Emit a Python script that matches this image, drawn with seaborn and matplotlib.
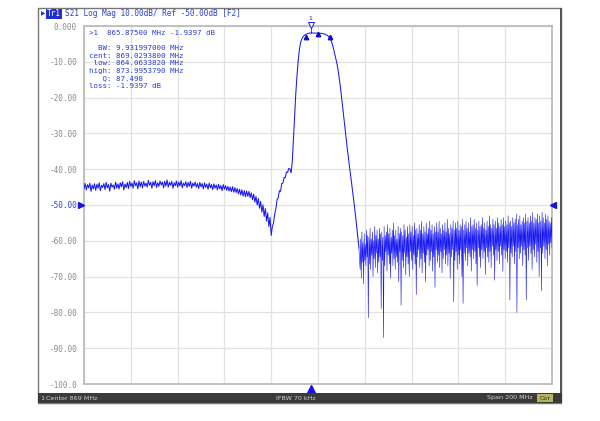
import numpy as np
import matplotlib
matplotlib.use("Agg")
import matplotlib.pyplot as plt
import matplotlib.transforms as mtransforms
from matplotlib.patches import Rectangle
import seaborn as sns

# S21 sweep, center 869 MHz, span 200 MHz
# 769.0 .. 886.5 MHz read every 0.5 MHz, stopband 887 .. 969 MHz every 0.25 MHz
main_start = 769.0
main_step = 0.5
stop_start = 887.0
stop_step = 0.25

lower_band = [
    -45.4, -44.0, -45.8, -44.3, -45.2, -43.9, -46.2, -44.4, -45.5, -44.1,
    -45.9, -44.2, -45.3, -43.8, -46.0, -44.5, -45.1, -44.0, -45.7, -43.7,
    -45.2, -44.3, -46.1, -43.9, -45.0, -44.4, -45.6, -43.6, -45.3, -44.1,
    -45.5, -43.8, -44.9, -43.5, -45.8, -44.2, -45.1, -43.7, -45.4, -43.4,
    -44.8, -43.9, -45.3, -43.2, -44.6, -43.8, -45.5, -43.3, -44.9, -43.6,
    -45.2, -43.4, -44.7, -43.9, -45.0, -43.1, -44.5, -43.7, -45.3, -43.5,
    -44.6, -43.2, -45.1, -43.8, -44.8, -43.3, -44.4, -43.6, -45.2, -43.4,
    -44.7, -43.0, -45.0, -43.7, -44.5, -43.4, -45.3, -43.8, -44.6, -43.3,
    -45.0, -43.6, -44.7, -43.2, -45.2, -43.9, -44.6, -43.5, -45.1, -43.7,
    -44.8, -43.4, -45.3, -43.9, -44.7, -43.6, -45.0, -44.0, -45.4, -43.7,
    -44.9, -44.0, -45.5, -43.8, -45.1, -44.2, -45.6, -43.9, -45.2, -44.3,
    -45.7, -44.1, -45.3, -44.4, -45.8, -44.2, -45.5, -44.6, -46.0, -44.3,
    -45.6,
]
lower_skirt = [
    -44.6, -45.9, -44.8, -46.1, -45.0, -46.3, -44.9, -46.4, -45.2, -46.5,
    -45.4, -46.9, -45.6, -47.2, -45.8, -47.5, -46.0, -47.7, -46.1, -47.6,
    -46.2, -47.9, -46.6, -48.5, -47.0, -49.2, -47.6, -50.0, -48.2, -50.9,
    -49.0, -52.0, -50.0, -53.2, -51.0, -54.5, -52.2, -56.0, -53.5, -58.5,
    -56.0,
]
shoulder = [
    -55.0, -52.5, -51.0, -48.5, -48.0, -46.0, -46.2, -44.0, -43.9, -42.3,
    -42.4, -40.8, -40.9, -39.8, -39.9, -41.0,
]
passband = [
    -38.0, -31.5, -25.0, -19.0, -14.0, -10.0, -6.8, -4.8, -3.7, -3.1,
    -2.7, -2.45, -2.3, -2.15, -2.05, -1.97, -1.94, -1.95, -1.97, -1.99,
    -2.0, -2.0, -2.0, -2.0, -2.02, -2.05, -2.1, -2.2, -2.3, -2.45,
    -2.65, -2.9, -3.3, -3.9, -4.8, -6.0, -7.4, -8.8, -10.2, -12.0,
    -14.2, -16.6, -19.4, -22.4, -25.4, -28.4, -31.4, -34.2, -36.8, -39.3,
    -41.8, -44.4, -47.1, -49.9, -52.8, -55.8, -58.9, -62.0,
]
stopband = [
    -68.0, -59.5, -70.5, -57.5, -66.0, -60.5, -72.0, -58.0, -65.5, -61.0, -67.0, -57.0,
    -64.5, -58.5, -81.5, -59.0, -66.5, -56.5, -68.0, -59.5, -64.0, -57.5, -70.0, -60.0,
    -65.0, -56.0, -67.5, -58.5, -63.5, -57.0, -69.0, -59.5, -66.0, -56.5, -64.5, -58.0,
    -79.0, -57.5, -65.5, -59.0, -87.0, -56.0, -67.0, -58.5, -63.0, -57.5, -68.5, -55.5,
    -64.0, -58.0, -66.5, -56.5, -70.5, -59.0, -63.5, -57.0, -67.0, -55.0, -65.0, -58.5,
    -68.0, -57.0, -64.5, -59.5, -66.0, -56.0, -71.5, -58.0, -63.0, -56.5, -78.0, -57.5,
    -65.5, -58.5, -67.5, -55.5, -63.5, -57.0, -69.5, -59.0, -64.5, -56.0, -66.5, -58.0,
    -70.0, -55.5, -63.0, -57.5, -65.5, -56.0, -68.0, -58.5, -64.0, -55.0, -66.5, -57.0,
    -75.0, -56.5, -64.5, -58.0, -62.5, -55.5, -67.5, -57.0, -65.0, -54.5, -69.0, -58.0,
    -63.5, -56.0, -66.0, -57.5, -71.5, -55.0, -64.0, -58.0, -62.5, -56.5, -67.0, -54.5,
    -65.5, -57.0, -63.0, -55.5, -68.5, -58.0, -64.5, -56.0, -73.0, -57.5, -62.5, -55.0,
    -66.0, -57.5, -64.0, -54.5, -67.5, -56.5, -63.0, -58.0, -69.0, -55.5, -65.0, -57.0,
    -62.5, -55.0, -66.5, -57.5, -64.0, -54.0, -67.0, -56.5, -63.5, -58.0, -70.5, -55.5,
    -64.5, -56.5, -62.5, -54.5, -77.0, -57.0, -65.5, -55.0, -63.0, -56.5, -68.0, -54.5,
    -64.0, -57.0, -66.5, -55.5, -62.5, -56.0, -70.0, -54.0, -77.5, -57.0, -63.5, -55.5,
    -65.5, -54.5, -62.0, -56.5, -67.0, -55.0, -63.5, -57.5, -64.5, -53.5, -68.5, -56.0,
    -62.5, -55.5, -65.0, -54.0, -63.0, -56.5, -66.5, -55.0, -72.5, -57.0, -62.0, -54.5,
    -64.5, -56.0, -67.5, -55.5, -62.5, -53.5, -65.0, -56.5, -63.0, -55.0, -69.5, -57.0,
    -62.0, -54.5, -64.5, -56.0, -66.0, -53.0, -63.0, -55.5, -67.5, -56.5, -61.5, -54.0,
    -64.0, -55.5, -71.0, -54.5, -62.5, -56.5, -65.5, -53.5, -63.0, -55.0, -66.5, -56.0,
    -61.5, -54.0, -64.0, -55.5, -68.5, -53.5, -62.5, -56.0, -65.0, -54.5, -63.0, -55.5,
    -66.0, -53.0, -62.0, -55.0, -76.5, -54.5, -63.5, -56.0, -64.5, -53.5, -61.5, -55.0,
    -66.5, -54.0, -63.0, -52.5, -80.0, -55.5, -62.0, -54.0, -65.0, -53.0, -63.5, -55.5,
    -61.5, -54.5, -67.0, -53.5, -62.5, -55.0, -64.0, -52.5, -76.5, -54.5, -62.0, -53.5,
    -65.5, -55.0, -61.5, -53.0, -63.5, -54.5, -68.0, -52.0, -62.5, -55.0, -64.5, -53.5,
    -61.0, -54.0, -66.0, -52.5, -63.0, -55.0, -70.0, -53.0, -62.0, -54.5, -74.0, -52.0,
    -63.5, -53.5, -61.5, -55.0, -65.0, -52.5, -62.5, -54.0, -67.0, -53.0, -61.0, -54.5,
    -64.0, -55.0, -60.5, -53.5, -62.0,
]

main_db = lower_band + lower_skirt + shoulder + passband
main_freq = main_start + main_step * np.arange(len(main_db))
stop_freq = stop_start + stop_step * np.arange(len(stopband))
# stopband piece starts from the last passband point so the trace stays joined
stop_x = np.concatenate([main_freq[-1:], stop_freq])
stop_y = np.array(main_db[-1:] + stopband)

ytick_vals = [0, -10, -20, -30, -40, -50, -60, -70, -80, -90, -100]
ytick_labels = ["0.000", "-10.00", "-20.00", "-30.00", "-40.00", "-50.00",
                "-60.00", "-70.00", "-80.00", "-90.00", "-100.0"]

# bandwidth search markers (MHz, dB)
mk_freq = 865.875
mk_db = -1.9397
bw_freqs = [864.0633820, 869.0293800, 873.9953790]
bw_dbs = [-3.1, -2.3, -3.1]

readout = [
    ">1  865.87500 MHz -1.9397 dB",
    "",
    "  BW: 9.931997000 MHz",
    "cent: 869.0293800 MHz",
    " low: 864.0633820 MHz",
    "high: 873.9953790 MHz",
    "   Q: 87.498",
    "loss: -1.9397 dB",
]

sns.set_style("white")
mono = "DejaVu Sans Mono"
trace_blue = "#1818f4"
text_blue = "#2a3fd8"
W, H = 600, 421

fig = plt.figure(figsize=(6.0, 4.21), dpi=100)
fig.patch.set_facecolor("white")

def fx(px):
    return px / W

def fy(py):
    return 1 - py / H

# instrument window frame
fig.patches.append(Rectangle((fx(38), fy(403)), fx(561) - fx(38), fy(8) - fy(403),
                             transform=fig.transFigure, facecolor="none",
                             edgecolor="#777777", linewidth=1.0, zorder=-1))
fig.patches.append(Rectangle((fx(560), fy(403)), fx(2), fy(8) - fy(403),
                             transform=fig.transFigure, facecolor="#555555",
                             edgecolor="none", zorder=-1))
# status bar
fig.patches.append(Rectangle((fx(38), fy(403)), fx(562) - fx(38), fy(393) - fy(403),
                             transform=fig.transFigure, facecolor="#3b3b3b",
                             edgecolor="none", zorder=2))
fig.patches.append(Rectangle((fx(537), fy(402)), fx(16), fy(394) - fy(402),
                             transform=fig.transFigure, facecolor="#b4b45a",
                             edgecolor="none", zorder=3))
bar_font = dict(family="DejaVu Sans", fontsize=4.6, color="#d0d0d0", va="center", zorder=4)
fig.text(fx(40), fy(398), "1", **bar_font)
fig.text(fx(46), fy(398), "Center 869 MHz", **bar_font)
fig.text(fx(296), fy(398), "IFBW 70 kHz", ha="center", **bar_font)
fig.text(fx(533), fy(398), "Span 200 MHz", ha="right", **bar_font)
fig.text(fx(545), fy(398), "Cor", ha="center", family="DejaVu Sans", fontsize=4.6,
         color="#333333", va="center", zorder=4)

# trace header
fig.patches.append(Rectangle((fx(46), fy(18.5)), fx(16), fy(9.5) - fy(18.5),
                             transform=fig.transFigure, facecolor="#1f2fd0",
                             edgecolor="none", zorder=3))
fig.text(fx(54), fy(14), "Tr1", ha="center", va="center", family=mono,
         fontsize=5.6, color="white", zorder=4)
fig.text(fx(40.5), fy(14), "\u25b6", ha="left", va="center", family="DejaVu Sans",
         fontsize=4, color="#1f2fd0", zorder=4)
fig.text(fx(65), fy(14), "S21 Log Mag 10.00dB/ Ref -50.00dB [F2]", ha="left",
         va="center", family=mono, fontsize=5.6, color=text_blue, zorder=4)

ax = fig.add_axes([fx(84), fy(384), fx(552) - fx(84), fy(26) - fy(384)])
ax.set_zorder(1)
ax.set_facecolor("white")
sns.lineplot(x=main_freq, y=main_db, ax=ax, color=trace_blue, linewidth=0.75,
             estimator=None, sort=False, zorder=3)
sns.lineplot(x=stop_x, y=stop_y, ax=ax, color=trace_blue, linewidth=0.42,
             estimator=None, sort=False, zorder=3)

ax.set_xlim(769, 969)
ax.set_ylim(-100, 0)
ax.set_xticks(np.arange(769, 970, 20))
ax.set_xticklabels([])
ax.set_yticks(ytick_vals)
ax.set_yticklabels(ytick_labels, family=mono, fontsize=5.6, color="#8a8a8a")
ax.get_yticklabels()[5].set_color(text_blue)
ax.tick_params(length=0, pad=5)
ax.grid(True, color="#e2e2e2", linewidth=0.9)
ax.set_axisbelow(True)
for sp in ax.spines.values():
    sp.set_color("#bcbcbc")
    sp.set_linewidth(1.3)
ax.set_xlabel("")
ax.set_ylabel("")

# reference level arrows and stimulus marker arrow
ytrans = mtransforms.blended_transform_factory(ax.transAxes, ax.transData)
ax.plot([-0.0055], [-50], marker=">", markersize=5, color="#1515e0",
        transform=ytrans, clip_on=False, zorder=5)
ax.plot([1.003], [-50], marker="<", markersize=5, color="#1515e0",
        transform=ytrans, clip_on=False, zorder=5)
xtrans = mtransforms.blended_transform_factory(ax.transData, ax.transAxes)
ax.plot([mk_freq], [-0.014], marker="^", markersize=5.5, color="#1515e0",
        transform=xtrans, clip_on=False, zorder=5)

# marker 1 and bandwidth markers
ax.plot([mk_freq, mk_freq], [mk_db, 0.2], color=trace_blue, linewidth=0.6,
        clip_on=False, zorder=4)
ax.plot([mk_freq], [0.3], marker="v", markersize=4.5, markerfacecolor="white",
        markeredgecolor=trace_blue, markeredgewidth=0.7, clip_on=False, zorder=5)
ax.text(mk_freq, 1.4, "1", ha="center", va="bottom", family="DejaVu Sans",
        fontsize=4.5, color=trace_blue, clip_on=False, zorder=5)
ax.plot(bw_freqs, bw_dbs, linestyle="none", marker="^", markersize=3.2,
        color="#1010c0", zorder=5)

# marker readout block
ys = [33, 40.5, 48.2, 55.7, 63.2, 70.7, 78.2, 85.7]
for line, py in zip(readout, ys):
    if line:
        fig.text(fx(89), fy(py), line, ha="left", va="center", family=mono,
                 fontsize=5.4, color=text_blue, zorder=6)

fig.savefig("out.png", dpi=100, facecolor="white")
